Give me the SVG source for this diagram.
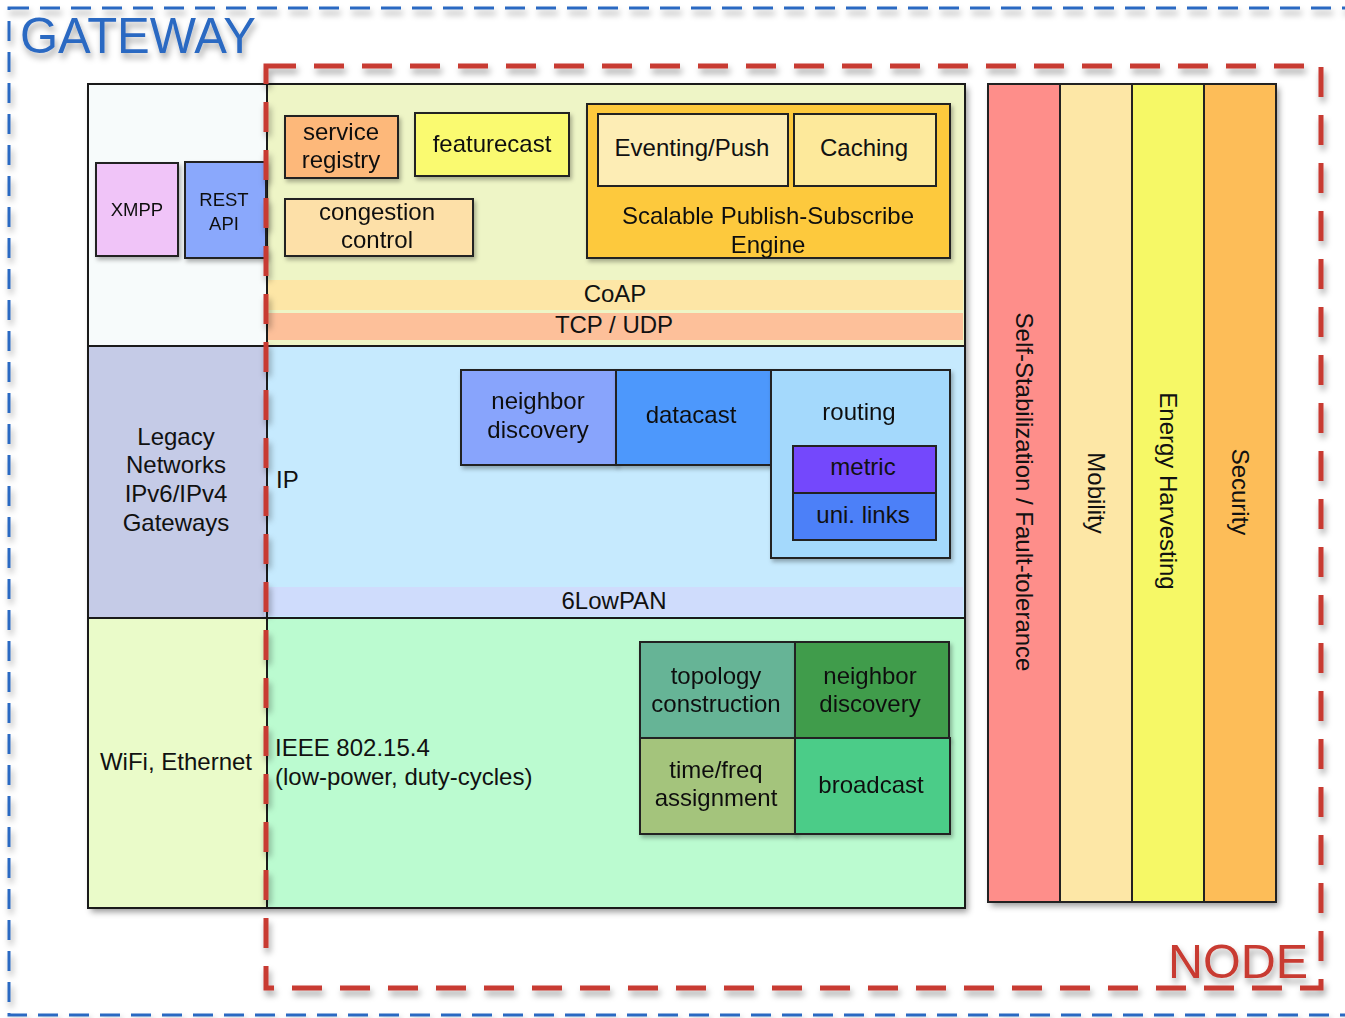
<svg xmlns="http://www.w3.org/2000/svg" width="1345" height="1018" viewBox="0 0 1345 1018">
  <defs>
    <filter id="shadow" x="-10%" y="-10%" width="120%" height="120%">
      <feDropShadow dx="3" dy="4" stdDeviation="3" flood-color="#000" flood-opacity="0.4"/>
    </filter>
    <filter id="softshadow" x="-10%" y="-10%" width="130%" height="130%">
      <feDropShadow dx="2" dy="3" stdDeviation="2" flood-color="#000" flood-opacity="0.3"/>
    </filter>
    <filter id="lineshadow" x="-5%" y="-5%" width="110%" height="110%">
      <feDropShadow dx="2" dy="5" stdDeviation="3" flood-color="#000" flood-opacity="0.35"/>
    </filter>
  </defs>
  <style>
    text { font-family: "Liberation Sans", Arial, sans-serif; fill: #111; }
    .t { font-size: 24px; text-anchor: middle; }
    .tl { font-size: 24px; text-anchor: start; }
    .ts { font-size: 18.5px; text-anchor: middle; }
    .box { stroke: #222; stroke-width: 2; }
    .line { stroke: #1a1a1a; stroke-width: 2; fill: none; }
    .band { stroke: none; }
  </style>

  <rect width="1345" height="1018" fill="#ffffff"/>

  <!-- gateway boundary -->
  <g id="gateway-boundary" filter="url(#lineshadow)">
    <rect x="9" y="8" width="1350" height="1007" fill="none" stroke="#2c69c2" stroke-width="3" stroke-dasharray="20 11"/>
    <text x="20" y="53" font-size="50" fill="#2c69c2" style="fill:#2c69c2" textLength="236" lengthAdjust="spacingAndGlyphs">GATEWAY</text>
  </g>

  <!-- protocol stack -->
  <g id="stack">
    <g filter="url(#shadow)">
      <rect x="88" y="84" width="877" height="824" fill="#f7fbfb"/>
    </g>
    <rect x="88" y="84" width="179" height="262" fill="#f7fbfb"/>
    <rect x="267" y="84" width="698" height="262" fill="#eef5c6"/>
    <rect x="88" y="346" width="179" height="272" fill="#c5cbe7"/>
    <rect x="267" y="346" width="698" height="272" fill="#c6eafe"/>
    <rect x="88" y="618" width="179" height="290" fill="#eafbc9"/>
    <rect x="267" y="618" width="698" height="290" fill="#bbfbd0"/>

    <rect class="band" x="267" y="280" width="696" height="30" fill="#fde6a6"/>
    <rect class="band" x="267" y="313" width="696" height="27" fill="#fdc09a"/>
    <rect class="band" x="264" y="587" width="699" height="29" fill="#cfdcfc"/>

    <line class="line" x1="267" y1="84" x2="267" y2="908"/>
    <line class="line" x1="88" y1="346" x2="965" y2="346"/>
    <line class="line" x1="88" y1="618" x2="965" y2="618"/>
    <rect x="88" y="84" width="877" height="824" class="line"/>

    <g id="coap"><text class="t" x="615" y="302">CoAP</text></g>
    <g id="tcp-udp"><text class="t" x="614" y="333">TCP / UDP</text></g>
    <g id="sixlowpan"><text class="t" x="614" y="609">6LowPAN</text></g>
    <g id="ip"><text class="tl" x="276" y="488">IP</text></g>
    <g id="ieee"><text class="tl" x="275" y="756">IEEE 802.15.4</text><text class="tl" x="275" y="785">(low-power, duty-cycles)</text></g>
    <g id="legacy">
      <text class="t" x="176" y="445">Legacy</text>
      <text class="t" x="176" y="473">Networks</text>
      <text class="t" x="176" y="502">IPv6/IPv4</text>
      <text class="t" x="176" y="531">Gateways</text>
    </g>
    <g id="wifi"><text class="t" x="176" y="770">WiFi, Ethernet</text></g>
  </g>

  <!-- application layer -->
  <g id="xmpp" filter="url(#softshadow)">
    <rect class="box" x="96" y="163" width="82" height="93" fill="#f0c4f8"/>
    <text class="ts" x="137" y="216">XMPP</text>
  </g>
  <g id="rest-api" filter="url(#softshadow)">
    <rect class="box" x="185" y="162" width="81" height="96" fill="#8aa8fc"/>
    <text class="ts" x="224" y="206">REST</text>
    <text class="ts" x="224" y="230">API</text>
  </g>
  <g id="service-registry" filter="url(#softshadow)">
    <rect class="box" x="285" y="116" width="113" height="62" fill="#fdb87a"/>
    <text class="t" x="341" y="140">service</text>
    <text class="t" x="341" y="168">registry</text>
  </g>
  <g id="featurecast" filter="url(#softshadow)">
    <rect class="box" x="415" y="113" width="154" height="63" fill="#fafa70"/>
    <text class="t" x="492" y="152">featurecast</text>
  </g>
  <g id="congestion-control" filter="url(#softshadow)">
    <rect class="box" x="285" y="199" width="188" height="57" fill="#fde0a8"/>
    <text class="t" x="377" y="220">congestion</text>
    <text class="t" x="377" y="248">control</text>
  </g>
  <g id="pubsub-engine" filter="url(#softshadow)">
    <rect class="box" x="587" y="104" width="363" height="154" fill="#fdc93d"/>
    <text class="t" x="768" y="224">Scalable Publish-Subscribe</text>
    <text class="t" x="768" y="253">Engine</text>
  </g>
  <g id="eventing-push">
    <rect class="box" x="598" y="114" width="190" height="72" fill="#fdedb5"/>
    <text class="t" x="692" y="156">Eventing/Push</text>
  </g>
  <g id="caching">
    <rect class="box" x="794" y="114" width="142" height="72" fill="#fde99b"/>
    <text class="t" x="864" y="156">Caching</text>
  </g>

  <!-- network layer -->
  <g id="neighbor-discovery-ip" filter="url(#softshadow)">
    <rect class="box" x="461" y="370" width="155" height="95" fill="#88a4fc"/>
    <text class="t" x="538" y="409">neighbor</text>
    <text class="t" x="538" y="438">discovery</text>
  </g>
  <g id="datacast" filter="url(#softshadow)">
    <rect class="box" x="616" y="370" width="155" height="95" fill="#4e98fc"/>
    <text class="t" x="691" y="423">datacast</text>
  </g>
  <g id="routing" filter="url(#softshadow)">
    <rect class="box" x="771" y="370" width="179" height="188" fill="#a4d9fc"/>
    <text class="t" x="859" y="420">routing</text>
  </g>
  <g id="metric">
    <rect class="box" x="793" y="446" width="143" height="47" fill="#7448fc"/>
    <text class="t" x="863" y="475">metric</text>
  </g>
  <g id="uni-links">
    <rect class="box" x="793" y="493" width="143" height="47" fill="#4c80f8"/>
    <text class="t" x="863" y="523">uni. links</text>
  </g>

  <!-- link layer -->
  <g id="topology-construction" filter="url(#softshadow)">
    <rect class="box" x="640" y="642" width="155" height="96" fill="#66b496"/>
    <text class="t" x="716" y="684">topology</text>
    <text class="t" x="716" y="712">construction</text>
  </g>
  <g id="neighbor-discovery-mac" filter="url(#softshadow)">
    <rect class="box" x="795" y="642" width="154" height="96" fill="#409c4c"/>
    <text class="t" x="870" y="684">neighbor</text>
    <text class="t" x="870" y="712">discovery</text>
  </g>
  <g id="time-freq-assignment" filter="url(#softshadow)">
    <rect class="box" x="640" y="738" width="155" height="96" fill="#a4c47c"/>
    <text class="t" x="716" y="778">time/freq</text>
    <text class="t" x="716" y="806">assignment</text>
  </g>
  <g id="broadcast" filter="url(#softshadow)">
    <rect class="box" x="795" y="738" width="155" height="96" fill="#4ccc88"/>
    <text class="t" x="871" y="793">broadcast</text>
  </g>

  <!-- cross-layer services -->
  <g id="cross-layer" filter="url(#shadow)">
    <rect x="988" y="84" width="288" height="818" fill="#fdbd58"/>
  </g>
  <g id="self-stabilization">
    <rect class="box" x="988" y="84" width="72" height="818" fill="#fe8e8a"/>
    <text class="t" transform="translate(1024 492) rotate(90)" x="0" y="8">Self-Stabilization / Fault-tolerance</text>
  </g>
  <g id="mobility">
    <rect class="box" x="1060" y="84" width="72" height="818" fill="#fde7a6"/>
    <text class="t" transform="translate(1096 493) rotate(90)" x="0" y="8">Mobility</text>
  </g>
  <g id="energy-harvesting">
    <rect class="box" x="1132" y="84" width="72" height="818" fill="#f6f866"/>
    <text class="t" transform="translate(1168 491) rotate(90)" x="0" y="8">Energy Harvesting</text>
  </g>
  <g id="security">
    <rect class="box" x="1204" y="84" width="72" height="818" fill="#fdbd58"/>
    <text class="t" transform="translate(1240 492) rotate(90)" x="0" y="8">Security</text>
  </g>

  <!-- node boundary -->
  <g id="node-boundary" filter="url(#lineshadow)">
    <rect x="266" y="66" width="1055" height="922" fill="none" stroke="#c83a30" stroke-width="5" stroke-dasharray="30 18"/>
    <text x="1168" y="978" font-size="48" style="fill:#c83a30" textLength="140" lengthAdjust="spacingAndGlyphs">NODE</text>
  </g>
</svg>
